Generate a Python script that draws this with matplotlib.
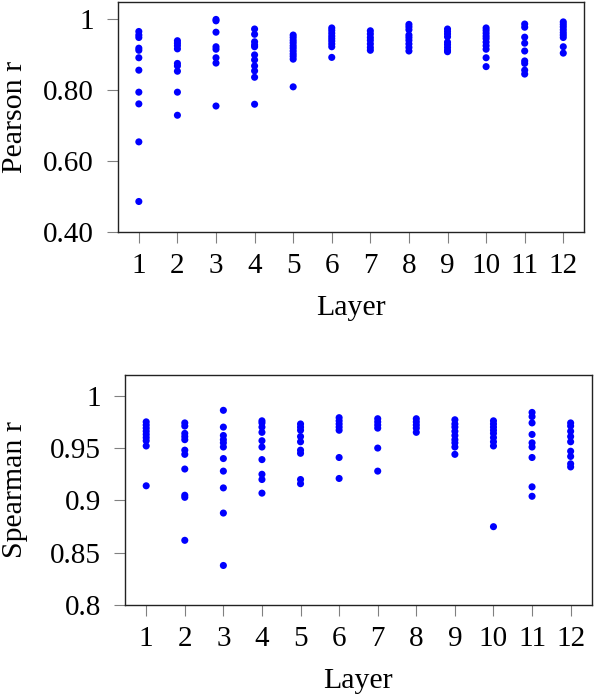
import matplotlib
matplotlib.use('Agg')
import matplotlib.pyplot as plt
import numpy as np

plt.rcParams['font.family'] = ['Liberation Serif', 'DejaVu Serif']

# layer numbers
layers = list(range(1, 13))

# Pearson r values per layer
pearson = [
    [0.965, 0.955, 0.948, 0.918, 0.912, 0.891, 0.856, 0.794, 0.761, 0.654, 0.486],
    [0.939, 0.932, 0.925, 0.916, 0.875, 0.868, 0.853, 0.794, 0.729],
    [0.999, 0.995, 0.963, 0.922, 0.915, 0.891, 0.876, 0.755],
    [0.972, 0.957, 0.936, 0.927, 0.922, 0.899, 0.885, 0.868, 0.854, 0.836, 0.760],
    [0.955, 0.948, 0.940, 0.933, 0.925, 0.918, 0.910, 0.902, 0.895, 0.887, 0.809],
    [0.975, 0.968, 0.960, 0.952, 0.945, 0.938, 0.930, 0.922, 0.892],
    [0.967, 0.958, 0.948, 0.940, 0.930, 0.920, 0.912],
    [0.985, 0.978, 0.970, 0.955, 0.948, 0.940, 0.930, 0.920, 0.910],
    [0.972, 0.965, 0.958, 0.950, 0.935, 0.928, 0.920, 0.912, 0.908],
    [0.975, 0.968, 0.960, 0.952, 0.945, 0.935, 0.925, 0.915, 0.891, 0.866],
    [0.986, 0.977, 0.949, 0.932, 0.910, 0.882, 0.875, 0.856, 0.845],
    [0.992, 0.985, 0.978, 0.970, 0.962, 0.955, 0.948, 0.922, 0.904],
]

# Spearman r values per layer
spearman = [
    [0.975, 0.972, 0.969, 0.966, 0.963, 0.960, 0.957, 0.952, 0.914],
    [0.974, 0.971, 0.964, 0.961, 0.958, 0.948, 0.944, 0.930, 0.905, 0.903, 0.862],
    [0.986, 0.970, 0.962, 0.958, 0.955, 0.951, 0.940, 0.928, 0.912, 0.888, 0.838],
    [0.976, 0.974, 0.970, 0.965, 0.957, 0.951, 0.939, 0.925, 0.920, 0.907],
    [0.973, 0.970, 0.967, 0.961, 0.956, 0.948, 0.945, 0.920, 0.916],
    [0.979, 0.976, 0.973, 0.970, 0.967, 0.941, 0.921],
    [0.978, 0.975, 0.972, 0.969, 0.950, 0.928],
    [0.978, 0.975, 0.972, 0.969, 0.965],
    [0.977, 0.973, 0.970, 0.966, 0.962, 0.958, 0.955, 0.951, 0.944],
    [0.976, 0.973, 0.970, 0.967, 0.964, 0.960, 0.956, 0.952, 0.875],
    [0.984, 0.980, 0.974, 0.963, 0.955, 0.951, 0.941, 0.913, 0.904],
    [0.974, 0.971, 0.966, 0.961, 0.956, 0.947, 0.942, 0.935, 0.932],
]

pearson_ticks = [0.4, 0.6, 0.8, 1.0]
pearson_labels = ['0.40', '0.60', '0.80', '1']
spearman_ticks = [0.8, 0.85, 0.9, 0.95, 1.0]
spearman_labels = ['0.8', '0.85', '0.9', '0.95', '1']

fig = plt.figure(figsize=(5.94, 6.98), dpi=100)
ax1 = fig.add_axes([0.198, 0.6676, 0.786, 0.3295])
ax2 = fig.add_axes([0.2104, 0.1328, 0.786, 0.3304])


def draw(ax, data, ticks, labels, ylim, ylabel, ylab_x):
    for layer, vals in zip(layers, data):
        ax.scatter([layer] * len(vals), vals, s=26, color='#0000ff',
                   edgecolors='none', zorder=3, clip_on=False)
    ax.set_xlim(0.45, 12.55)
    ax.set_ylim(*ylim)
    ax.set_xticks(layers)
    ax.set_xticklabels([str(l) for l in layers])
    ax.set_yticks(ticks)
    ax.set_yticklabels(labels)
    ax.tick_params(axis='both', direction='out', length=8, width=0.8,
                   color='#808080', labelsize=21)
    ax.tick_params(axis='y', pad=9)
    ax.tick_params(axis='x', pad=7)
    for sp in ax.spines.values():
        sp.set_linewidth(1.0)
        sp.set_color('#222222')
    ax.set_xlabel('Layer', fontsize=21.5, va='center')
    ax.xaxis.set_label_coords(0.5, -0.33)
    ax.set_ylabel(ylabel, fontsize=21.5, va='center')
    ax.yaxis.set_label_coords(ylab_x, 0.5)


draw(ax1, pearson, pearson_ticks, pearson_labels, (0.4, 1.048), 'Pearson r', -0.22)
draw(ax2, spearman, spearman_ticks, spearman_labels, (0.8, 1.02), 'Spearman r', -0.235)

fig.savefig('out.png', dpi=100)
